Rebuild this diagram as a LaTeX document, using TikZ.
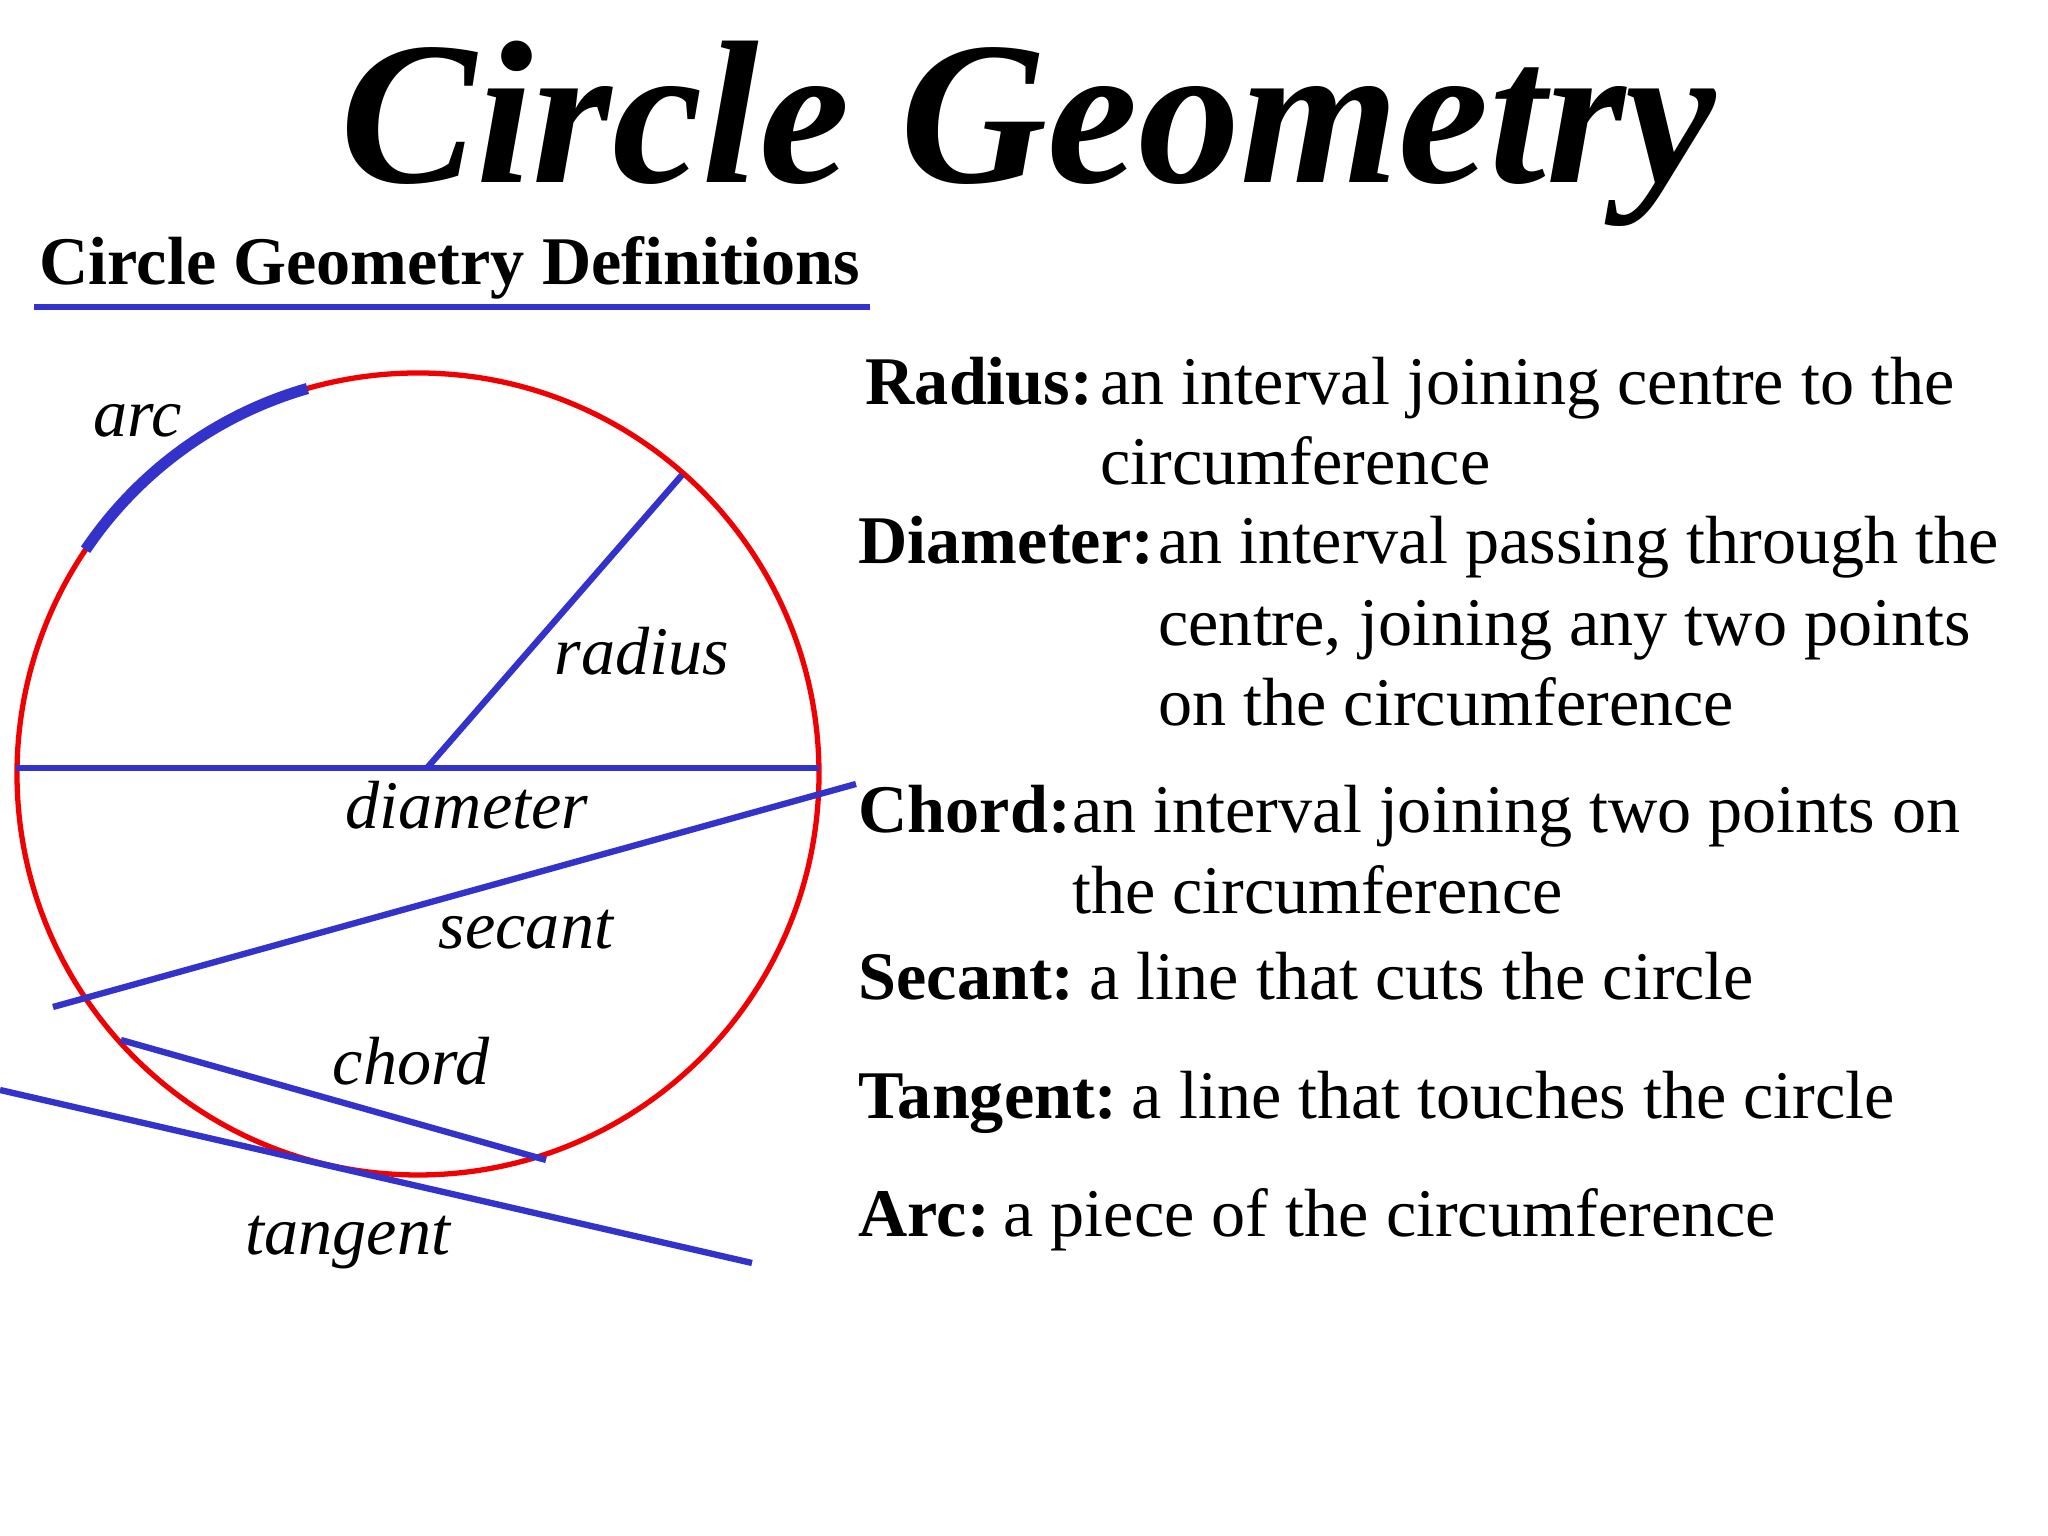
\documentclass[tikz,border=0pt]{standalone}
\usepackage{fontspec}
\setmainfont{Liberation Serif}
\definecolor{lineblue}{RGB}{51,51,204}
\definecolor{circred}{RGB}{240,0,0}
\begin{document}
\begin{tikzpicture}[
	line/.style={lineblue, line width=1.8pt},
	lbl/.style={anchor=base, inner sep=0pt, font=\fontsize{19.4}{23}\selectfont\itshape},
	term/.style={anchor=base west, inner sep=0pt, font=\fontsize{19.4}{23}\selectfont\bfseries},
	txt/.style={anchor=base west, inner sep=0pt, font=\fontsize{19.4}{23}\selectfont}]
	\useasboundingbox (0,0) rectangle (20.48,15.36);
	% headings
	\node (title) at (10.28,13.53) [anchor=base, inner sep=0pt, font=\fontsize{58}{70}\selectfont\bfseries\itshape] {Circle Geometry};
	\node (sub) at (0.39,12.51) [term] {Circle Geometry Definitions};
	\coordinate (u1) at (0.34,12.29);
	\coordinate (u2) at (8.70,12.29);
	\draw[lineblue, line width=1.6pt] (u1) -- (u2);
	% the circle
	\coordinate (O) at (4.18,7.62);
	\draw[circred, line width=1.5pt] (O) circle [radius=4.01];
	\coordinate (dl) at (0.16,7.68);
	\coordinate (dr) at (8.19,7.68);
	\coordinate (m) at (4.27,7.68);
	\coordinate (r) at (6.82,10.61);
	\coordinate (s1) at (0.53,5.29);
	\coordinate (s2) at (8.56,7.52);
	\coordinate (c1) at (1.21,4.96);
	\coordinate (c2) at (5.46,3.76);
	\coordinate (t1) at (0,4.46);
	\coordinate (t2) at (7.52,2.73);
	\draw[line] (dl) -- (dr);
	\draw[line] (m) -- (r);
	\draw[line] (s1) -- (s2);
	\draw[line] (c1) -- (c2);
	\draw[line] (t1) -- (t2);
	\draw[lineblue, line width=3.2pt] ([shift={(146:4.01)}]O) arc [start angle=146, end angle=106, radius=4.01];
	\node (arcl) at (1.38,10.99) [lbl] {arc};
	\node (radl) at (6.42,8.61) [lbl] {radius};
	\node (diaml) at (4.67,7.07) [lbl] {diameter};
	\node (secl) at (5.26,5.87) [lbl] {secant};
	\node (chl) at (4.11,4.51) [lbl] {chord};
	\node (tanl) at (3.48,2.81) [lbl] {tangent};
	% definitions
	\node (rad) at (8.65,11.31) [term] {Radius:};
	\node (radA) at ([xshift=0.06cm]rad.base east) [txt] {an interval joining centre to the};
	\node (radB) at ([yshift=-0.8cm]radA.base west) [txt] {circumference};
	\node (dia) at (8.58,9.72) [term] {Diameter:};
	\node (diaA) at ([xshift=0.03cm]dia.base east) [txt] {an interval passing through the};
	\node (diaB) at ([yshift=-0.82cm]diaA.base west) [txt] {centre, joining any two points};
	\node (diaC) at ([yshift=-0.8cm]diaB.base west) [txt] {on the circumference};
	\node (cho) at (8.58,7.03) [term] {Chord:};
	\node (choA) at (cho.base east) [txt] {an interval joining two points on};
	\node (choB) at ([yshift=-0.81cm]choA.base west) [txt] {the circumference};
	\node (sec) at (8.58,5.36) [txt] {\textbf{Secant:}\hspace{0.22em}a line that cuts the circle};
	\node (tan) at (8.58,4.17) [txt] {\textbf{Tangent:}\hspace{0.21em}a line that touches the circle};
	\node (arc) at (8.58,2.99) [txt] {\textbf{Arc:}\hspace{0.2em}a piece of the circumference};
\end{tikzpicture}
\end{document}
